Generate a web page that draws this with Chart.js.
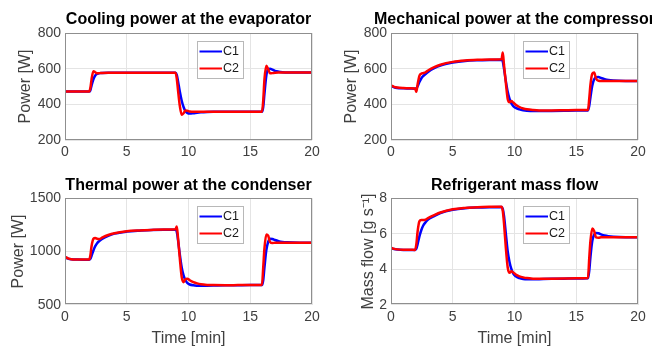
<!DOCTYPE html>
<html><head><meta charset="utf-8">
<script src="https://cdn.jsdelivr.net/npm/chart.js@4/dist/chart.umd.min.js"></script>
<style>
html,body{margin:0;padding:0;background:#fff;overflow:hidden;width:652px;height:347px;position:relative;}
canvas{position:absolute;}
</style></head><body>
<canvas id="cv1" style="left:0;top:0;width:377px;height:174px" width="377" height="174"></canvas>
<canvas id="cv2" style="left:326px;top:0;width:377px;height:174px" width="377" height="174"></canvas>
<canvas id="cv3" style="left:0;top:174px;width:377px;height:173px" width="377" height="173"></canvas>
<canvas id="cv4" style="left:326px;top:174px;width:377px;height:173px" width="377" height="173"></canvas>
<script>
// ---- data (time in min) ----
const time = [0,0.25,0.5,1,1.5,1.95,
  2.05,2.15,2.3,2.45,2.6,2.8,3,
  3.5,4,5,6,7,8,8.95,
  9.05,9.15,9.3,9.45,9.6,9.75,9.9,10.1,10.4,10.7,11,11.5,
  12,13,14,15,15.95,
  16.05,16.15,16.3,16.45,16.6,16.8,17,17.3,17.6,
  18,19,20];
const xTicks = [0,5,10,15,20];
const seriesLabels = ['C1','C2'];
const titles = ['Cooling power at the evaporator','Mechanical power at the compressor','Thermal power at the condenser','Refrigerant mass flow'];
const yLabels = ['Power [W]','Power [W]','Power [W]','Mass flow [g s\u207B\u00B9]'];
const xLabel = 'Time [min]';
const powerTicks = [200,400,600,800];
const thermalTicks = [500,1000,1500];
const massTicks = [2,4,6,8];

const coolC1 = [472,472,472,472,472,472,
  478,505,540,562,571,575,576,
  577,577,577,577,577,577,577,
  565,530,470,420,385,362,352,348,350,353,355,357,
  358,358,358,358,358,
  385,460,560,598,600,595,588,583,580,
  578,578,578];
const coolC2 = [472,472,472,472,472,472,
  490,540,585,580,574,575,576,
  577,577,577,577,577,577,577,
  545,480,390,342,350,366,364,360,358,358,358,358,
  358,358,358,358,358,
  420,540,616,598,574,575,577,578,578,
  578,578,578];
const mechC1 = [504,496,492,490,489,488,
  490,500,525,545,558,570,582,
  603,618,634,643,647,649,650,
  640,600,530,470,430,405,390,380,372,367,364,362,
  362,363,364,365,366,
  390,440,505,540,552,553,548,541,536,
  533,531,531];
const mechC2 = [506,498,494,491,490,489,
  470,510,560,572,575,580,590,
  608,622,638,646,650,652,653,
  690,620,520,430,412,418,410,398,385,377,372,368,
  366,366,367,368,368,
  430,510,572,578,545,532,531,531,531,
  531,531,531];
const thermC1 = [948,933,927,924,923,923,
  930,960,1010,1050,1078,1100,1118,
  1148,1168,1187,1196,1201,1204,1205,
  1185,1110,970,850,775,730,705,690,682,679,678,679,
  680,682,683,684,685,
  730,850,1010,1090,1120,1118,1108,1097,1090,
  1086,1083,1083];
const thermC2 = [950,935,928,925,924,924,
  960,1050,1120,1128,1120,1118,1130,
  1155,1172,1190,1198,1203,1206,1208,
  1235,1130,930,760,712,740,745,730,712,700,692,686,
  684,683,684,685,686,
  850,1030,1160,1150,1090,1080,1082,1083,1083,
  1083,1083,1083];
const massC1 = [5.2,5.14,5.11,5.09,5.09,5.09,
  5.15,5.4,5.85,6.2,6.45,6.65,6.8,
  7.0,7.17,7.35,7.44,7.48,7.5,7.51,
  7.4,7.0,6.0,5.0,4.4,4.0,3.75,3.6,3.5,3.45,3.43,3.43,
  3.44,3.46,3.47,3.48,3.49,
  3.9,4.7,5.6,5.95,6.05,6.03,5.97,5.9,5.86,
  5.83,5.81,5.81];
const massC2 = [5.22,5.15,5.12,5.10,5.10,5.09,
  5.4,6.1,6.7,6.78,6.77,6.8,6.88,
  7.05,7.2,7.38,7.46,7.5,7.52,7.53,
  7.3,6.6,5.2,4.1,3.8,3.88,3.82,3.7,3.6,3.54,3.5,3.47,
  3.46,3.47,3.48,3.49,3.5,
  4.6,5.6,6.3,6.15,5.8,5.78,5.8,5.81,5.81,
  5.81,5.81,5.81];

// ---- drawing ----
const FONT = "'Liberation Sans', Arial, Helvetica, sans-serif";
const BLUE = 'rgb(0,0,255)', RED = 'rgb(255,0,0)';

const framePlugin = {
  id: 'frameLegend',
  afterDraw(chart) {
    const ctx = chart.ctx, a = chart.chartArea;
    ctx.save();
    ctx.strokeStyle = '#8f8f8f'; ctx.lineWidth = 1;
    ctx.strokeRect(Math.round(a.left) + 0.5, Math.round(a.top) + 0.5, Math.round(a.right - a.left) - 1, Math.round(a.bottom - a.top) - 1);
    const lx = Math.round(a.left + 132), ly = Math.round(a.top + 7.5), lw = 46, lh = 37;
    ctx.fillStyle = '#fff'; ctx.fillRect(lx, ly, lw, lh);
    ctx.strokeStyle = '#b8b8b8'; ctx.strokeRect(lx + 0.5, ly + 0.5, lw, lh);
    [0, 1].forEach((i, k) => {
      const ds = chart.data.datasets[i];
      const y = ly + 10.5 + k * 17;
      ctx.strokeStyle = ds.borderColor; ctx.lineWidth = 2;
      ctx.beginPath(); ctx.moveTo(lx + 2.5, y); ctx.lineTo(lx + 25, y); ctx.stroke();
      ctx.fillStyle = '#1a1a1a'; ctx.font = '12.5px ' + FONT;
      ctx.textBaseline = 'middle'; ctx.textAlign = 'left';
      ctx.fillText(ds.label, lx + 26, y + 0.5);
    });
    ctx.restore();
  }
};

function pts(vals) { return vals.map((v, i) => ({x: time[i], y: v})); }

function makePanel(id, H, title, yLabel, yTicks, c1, c2, bottomRow, yTitlePad) {
  const yMin = yTicks[0], yMax = yTicks[yTicks.length - 1];
  const plotTop = bottomRow ? 24.3 : 33;
  const plotBottom = bottomRow ? 130.7 : 140;
  const titleCenter = bottomRow ? 11.5 : 20;
  const tpTop = titleCenter - 9.6;
  const tpBottom = plotTop - tpTop - 19.2;
  new Chart(document.getElementById(id), {
    type: 'line',
    data: {
      datasets: [
        {label: seriesLabels[0], data: pts(c1), borderColor: BLUE, backgroundColor: BLUE, borderWidth: 2.5, pointRadius: 0, cubicInterpolationMode: 'monotone', order: 2, fill: false},
        {label: seriesLabels[1], data: pts(c2), borderColor: RED, backgroundColor: RED, borderWidth: 2.5, pointRadius: 0, cubicInterpolationMode: 'monotone', order: 1, fill: false}
      ]
    },
    options: {
      responsive: false, animation: false, devicePixelRatio: 1,
      layout: {padding: 0},
      plugins: {
        legend: {display: false}, tooltip: {enabled: false},
        title: {display: true, text: title, color: '#000', font: {family: FONT, size: 16, weight: 'bold', lineHeight: 1.2}, padding: {top: tpTop, bottom: tpBottom}}
      },
      scales: {
        x: {
          type: 'linear', min: xTicks[0], max: xTicks[xTicks.length - 1],
          afterBuildTicks: s => { s.ticks = xTicks.map(v => ({value: v})); },
          afterFit: s => { s.height = H - plotBottom; },
          border: {display: false},
          grid: {color: '#e4e4e4', drawTicks: false, lineWidth: 1},
          ticks: {color: '#404040', padding: 4, font: {family: FONT, size: 14}, maxRotation: 0, callback: v => String(v)},
          title: {display: bottomRow, text: xLabel, color: '#404040', font: {family: FONT, size: 16, lineHeight: 1}, padding: {top: 0, bottom: 0}}
        },
        y: {
          type: 'linear', position: 'left', min: yMin, max: yMax,
          afterBuildTicks: s => { s.ticks = yTicks.map(v => ({value: v})); },
          afterFit: s => { s.width = 65; },
          border: {display: false},
          grid: {color: '#e4e4e4', drawTicks: false, lineWidth: 1},
          ticks: {color: '#404040', padding: 4, font: {family: FONT, size: 14}, callback: v => String(v)},
          title: {display: true, text: yLabel, color: '#404040', font: {family: FONT, size: 16, lineHeight: 1.2}, padding: {top: yTitlePad, bottom: 0}}
        },
        yPad: {
          type: 'linear', position: 'right', display: true,
          afterFit: s => { s.width = 65; },
          border: {display: false},
          grid: {display: false, drawTicks: false},
          ticks: {display: false}
        }
      }
    },
    plugins: [framePlugin]
  });
}

makePanel('cv1', 174, titles[0], yLabels[0], powerTicks, coolC1, coolC2, false, 16.4);
makePanel('cv2', 174, titles[1], yLabels[1], powerTicks, mechC1, mechC2, false, 16.4);
makePanel('cv3', 173, titles[2], yLabels[2], thermalTicks, thermC1, thermC2, true, 8.9);
makePanel('cv4', 173, titles[3], yLabels[3], massTicks, massC1, massC2, true, 33.4);
</script>
</body></html>
